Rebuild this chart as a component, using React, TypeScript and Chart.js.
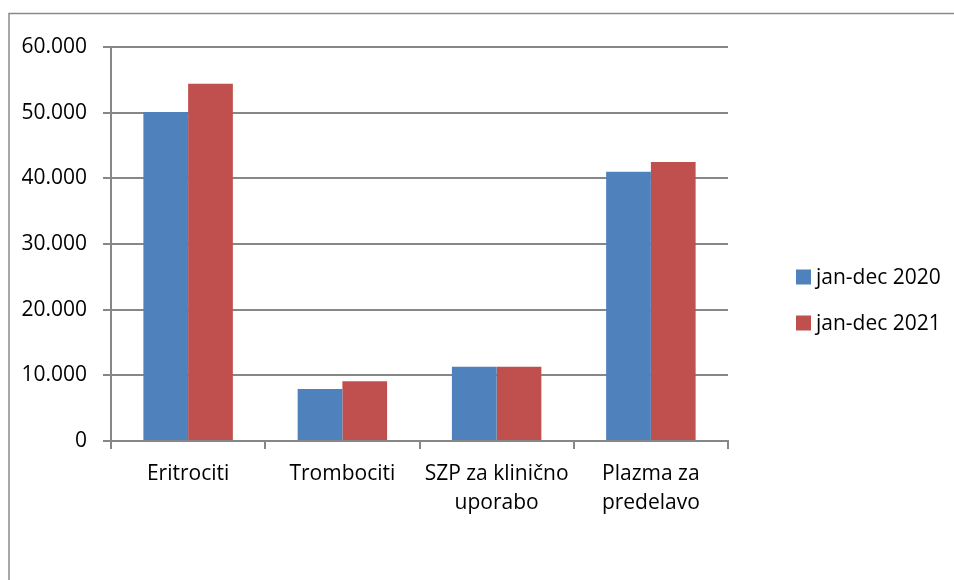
import React, { useEffect, useRef } from "react";
import { Chart, registerables } from "chart.js";

Chart.register(...registerables);

const categories: (string | string[])[] = [
  "Eritrociti",
  "Trombociti",
  ["SZP za klinično", "uporabo"],
  ["Plazma za", "predelavo"],
];
const seriesNames = ["jan-dec 2020", "jan-dec 2021"];
const values2020 = [50100, 7900, 11300, 41000];
const values2021 = [54400, 9100, 11300, 42500];
const colors = ["#4F81BD", "#C0504D"];

const FONT = "'Open Sans', sans-serif";
const GRID = "#878787";

function fmt(v: number): string {
  if (v === 0) return "0";
  const th = Math.floor(v / 1000);
  const rest = String(v % 1000).padStart(3, "0");
  return th + "." + rest;
}

const framePlugin = {
  id: "frame",
  beforeDraw(chart: any) {
    const ctx = chart.ctx;
    ctx.save();
    ctx.strokeStyle = "#8a8a8a";
    ctx.lineWidth = 1.5;
    ctx.strokeRect(9, 13.5, 2000, 2000);
    ctx.restore();
  },
};

const legendPlugin = {
  id: "customLegend",
  afterDraw(chart: any) {
    const ctx = chart.ctx;
    ctx.save();
    ctx.font = `21px ${FONT}`;
    ctx.textBaseline = "middle";
    ctx.textAlign = "left";
    chart.data.datasets.forEach((ds: any, i: number) => {
      const cy = 277 + i * 46;
      ctx.fillStyle = ds.backgroundColor;
      ctx.fillRect(796, cy - 7.5, 15, 15);
      ctx.fillStyle = "#000";
      ctx.fillText(ds.label, 816, cy + 1);
    });
    ctx.restore();
  },
};

export default function App() {
  const ref = useRef<HTMLCanvasElement>(null);
  useEffect(() => {
    if (!ref.current) return;
    const chart = new Chart(ref.current, {
      type: "bar",
      data: {
        labels: categories,
        datasets: [
          { label: seriesNames[0], data: values2020, backgroundColor: colors[0] },
          { label: seriesNames[1], data: values2021, backgroundColor: colors[1] },
        ],
      },
      options: {
        responsive: false,
        animation: false,
        devicePixelRatio: 1,
        layout: { padding: { left: 0, right: 226, top: 47, bottom: 0 } },
        datasets: { bar: { categoryPercentage: 0.58, barPercentage: 1 } },
        plugins: { legend: { display: false }, tooltip: { enabled: false } },
        scales: {
          x: {
            offset: true,
            afterFit(scale: any) {
              scale.height = 139;
            },
            grid: {
              offset: true,
              drawOnChartArea: false,
              drawTicks: true,
              tickLength: 8,
              color: GRID,
              lineWidth: 2,
            },
            border: { display: true, color: GRID, width: 2 },
            ticks: {
              color: "#000",
              padding: 11,
              maxRotation: 0,
              autoSkip: false,
              font: { family: FONT, size: 21, lineHeight: 1.37 },
            },
          },
          y: {
            min: 0,
            max: 60000,
            afterFit(scale: any) {
              scale.width = 111;
            },
            grid: {
              drawTicks: true,
              tickLength: 8,
              color: GRID,
              lineWidth: 2,
            },
            border: { display: true, color: GRID, width: 2 },
            ticks: {
              stepSize: 10000,
              color: "#000",
              padding: 16,
              font: { family: FONT, size: 21 },
              callback: (v: any) => fmt(Number(v)),
            },
          },
        },
      },
      plugins: [framePlugin, legendPlugin],
    });
    return () => chart.destroy();
  }, []);
  return (
    <div style={{ position: "absolute", left: 0, top: 0, width: 954, height: 580, background: "#fff" }}>
      <canvas ref={ref} width={954} height={580} style={{ display: "block" }} />
    </div>
  );
}
